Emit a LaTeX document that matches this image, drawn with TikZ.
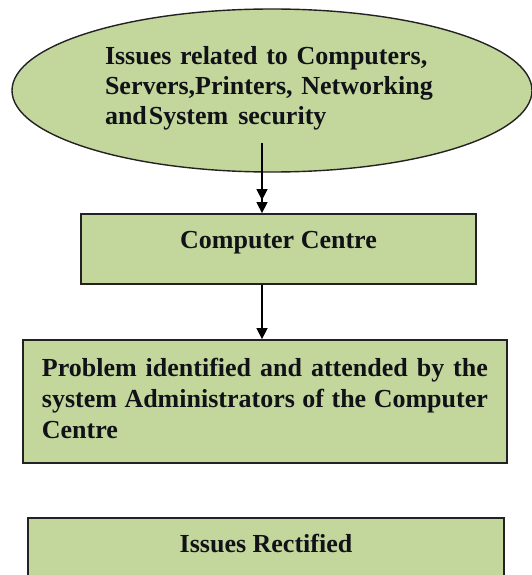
\documentclass[tikz,border=0pt]{standalone}
\usepackage{fontspec}
\setmainfont{Liberation Serif}
\usetikzlibrary{shapes.geometric,arrows.meta}
\definecolor{boxfill}{HTML}{C3D69B}
\definecolor{ink}{HTML}{111118}
\definecolor{edge}{HTML}{222222}
\tikzset{
  box/.style={draw=edge, line width=1.8pt, fill=boxfill, inner ysep=0pt, text=ink,
    font=\fontsize{26}{31}\selectfont\bfseries},
  bubble/.style={ellipse, draw=edge, line width=1.4pt, fill=boxfill, inner sep=0pt, text=ink,
    font=\fontsize{26}{30}\selectfont\bfseries},
  arr/.style={draw=black, line width=1.5pt, -{Triangle[length=11pt,width=11pt]}},
  darr/.style={draw=black, line width=1.5pt,
    -{Triangle[length=11pt,width=11pt,sep=2pt]Triangle[length=11pt,width=11pt]}}
}
\begin{document}
\begin{tikzpicture}[x=1pt,y=-1pt]
\clip (0,0) rectangle (532,575);
\fill[white] (0,0) rectangle (532,575);

\node[bubble, minimum width=520pt, minimum height=163pt, text width=334pt, align=left,
      text height=22pt, text depth=73pt] (issues) at (272,90.5)
  {Issues related to Computers,\\
   Servers,Printers, Networking\\
   and\hspace{2pt}System\hspace{10pt}security};

\coordinate (a1) at (262,143);

\node[box, minimum width=395pt, inner xsep=0pt, text height=34pt, text depth=36pt,
      anchor=base] (cc) at (278.5,248) {Computer Centre};

\node[box, inner xsep=19pt, text width=446pt, align=justify, text height=36pt, text depth=87pt,
      anchor=base west] (prob) at (22,376)
  {Problem identified and attended by the\linebreak
   system Administrators of the Computer\linebreak Centre};

\node[box, minimum width=476pt, inner xsep=0pt, text height=34pt, text depth=70pt,
      anchor=base] (fixed) at (266,552) {Issues Rectified};

\draw[darr] (a1) -- (a1 |- cc.north);
\draw[arr] (a1 |- cc.south) -- (a1 |- prob.north);
\end{tikzpicture}
\end{document}
